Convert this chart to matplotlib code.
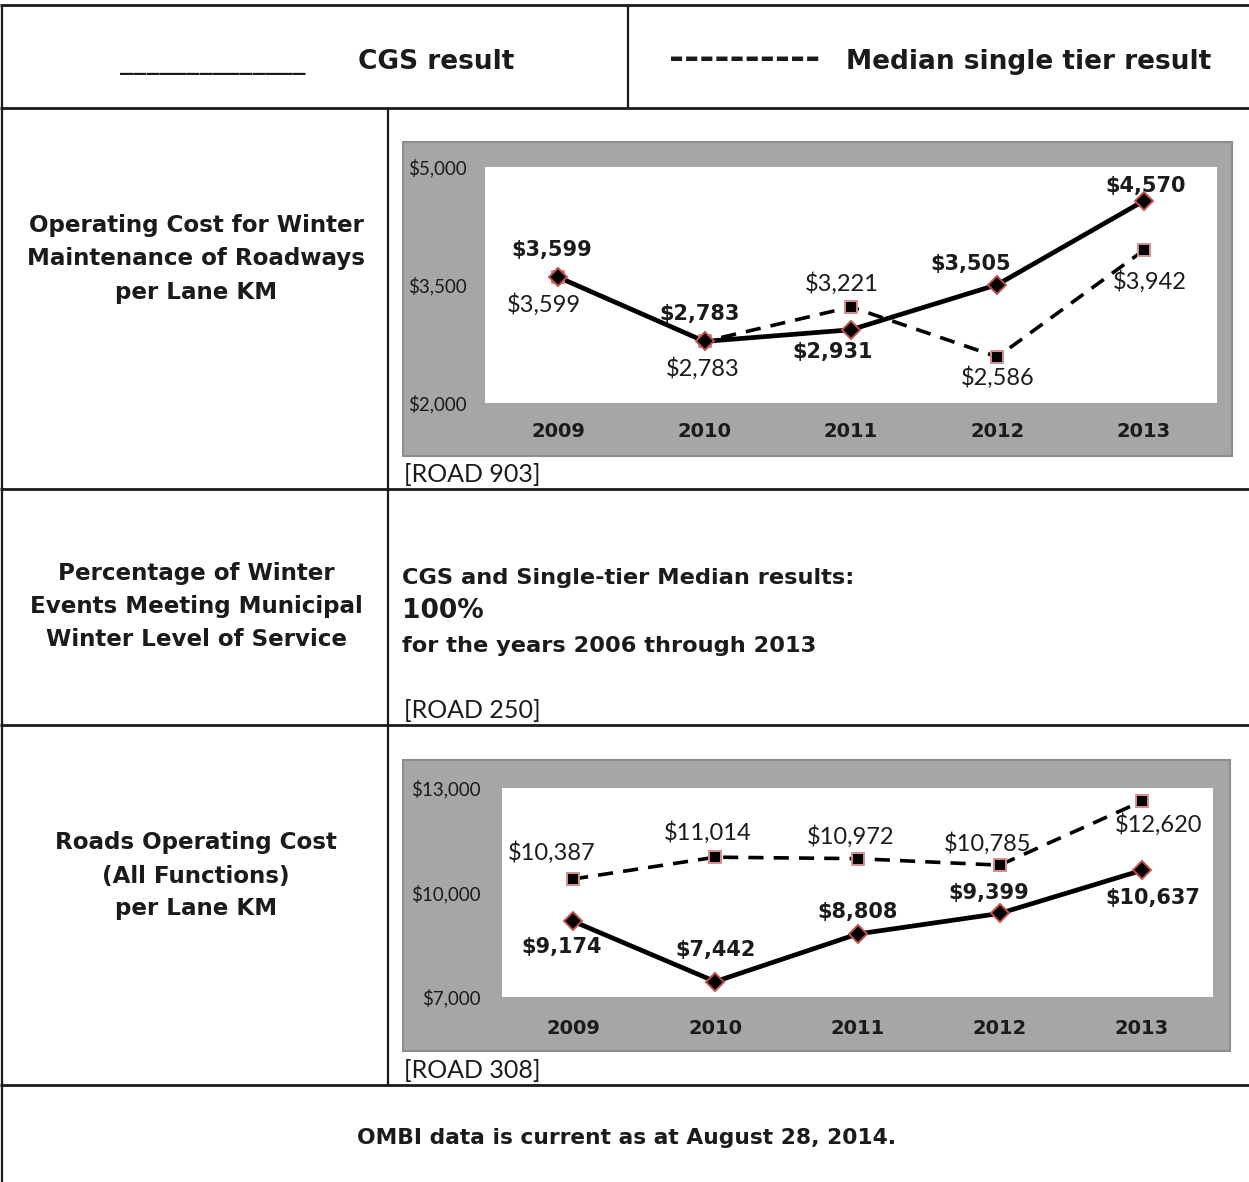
import matplotlib
matplotlib.use('Agg')
import matplotlib.pyplot as plt
from matplotlib.lines import Line2D
from matplotlib.patches import Rectangle

# ---------------- data ----------------
years = ['2009', '2010', '2011', '2012', '2013']
winter_cgs = [3599, 2783, 2931, 3505, 4570]
winter_median = [3599, 2783, 3221, 2586, 3942]
winter_ticks = [2000, 3500, 5000]
roads_cgs = [9174, 7442, 8808, 9399, 10637]
roads_median = [10387, 11014, 10972, 10785, 12620]
roads_ticks = [7000, 10000, 13000]

# label offsets in pixels (dx, dy), dy positive = upward
winter_cgs_off = [(-6, 27), (-5, 27), (-18, -22), (-27, 21), (2, 15)]
winter_med_off = [(-14, -27), (-2, -27), (-9, 23), (0, -21), (6, -31)]
roads_cgs_off = [(-11, -26), (0, 32), (0, 22), (-11, 20), (11, -28)]
roads_med_off = [(-21, 27), (-8, 25), (-7, 22), (-12, 22), (17, -23)]

W, H = 1249, 1182
INK = '#1c1a1b'
BOLD = dict(family='DejaVu Sans', weight='bold', color=INK)
THIN = dict(family='Lato', weight='normal', color=INK)

fig = plt.figure(figsize=(W / 100, H / 100), dpi=100)
fig.patch.set_facecolor('white')


def fx(x):
    return x / W


def fy(y):
    return 1 - y / H


def hline(y, x0=0, x1=W, lw=2.0):
    fig.add_artist(Line2D([fx(x0), fx(x1)], [fy(y), fy(y)], transform=fig.transFigure,
                          color=INK, lw=lw, solid_capstyle='butt'))


def vline(x, y0, y1, lw=1.6):
    fig.add_artist(Line2D([fx(x), fx(x)], [fy(y0), fy(y1)], transform=fig.transFigure,
                          color=INK, lw=lw, solid_capstyle='butt'))


def ftext(x, y, s, ha='center', size=16, style=BOLD):
    fig.text(fx(x), fy(y), s, ha=ha, va='center', fontsize=size, **style)


# ---------------- table grid ----------------
hline(5)
hline(108)
hline(489)
hline(725)
hline(1085)
vline(2, 5, H)
vline(628, 5, 108)
vline(388, 108, 1085)

# ---------------- header ----------------
ftext(213, 62, '______________', size=19)
ftext(436, 62, 'CGS result', size=19)
ftext(745, 59, '----------', size=26)
ftext(1029, 62, 'Median single tier result', size=19)

# ---------------- left column labels ----------------
for i, s in enumerate(['Operating Cost for Winter', 'Maintenance of Roadways', 'per Lane KM']):
    ftext(196, 226 + 33 * i, s, size=16.6)
for i, s in enumerate(['Percentage of Winter', 'Events Meeting Municipal', 'Winter Level of Service']):
    ftext(196, 574 + 33 * i, s, size=16.6)
for i, s in enumerate(['Roads Operating Cost', '(All Functions)', 'per Lane KM']):
    ftext(196, 843 + 33 * i, s, size=16.6)

# ---------------- row 3 text ----------------
ftext(402, 578, 'CGS and Single-tier Median results:', ha='left', size=16.2)
ftext(402, 611, '100%', ha='left', size=19)
ftext(402, 646, 'for the years 2006 through 2013', ha='left', size=16.2)
ftext(404, 711, '[ROAD 250]', ha='left', size=18, style=THIN)

# tags under charts
ftext(404, 474, '[ROAD 903]', ha='left', size=18, style=THIN)
ftext(404, 1070, '[ROAD 308]', ha='left', size=18, style=THIN)

# footer
ftext(627, 1138, 'OMBI data is current as at August 28, 2014.', size=15.7)


# ---------------- charts ----------------
def draw_chart(frame, plot, cgs, med, ticks, cgs_off, med_off, xpad, ypad):
    fx0, fy0, fx1, fy1 = frame
    fig.add_artist(Rectangle((fx(fx0), fy(fy1)), (fx1 - fx0) / W, (fy1 - fy0) / H,
                             transform=fig.transFigure, facecolor='#a6a6a6',
                             edgecolor='#8e8e8e', lw=1.5, zorder=-2))
    px0, py0, px1, py1 = plot
    ax = fig.add_axes([fx(px0), fy(py1), (px1 - px0) / W, (py1 - py0) / H])
    ax.set_facecolor('white')
    for sp in ax.spines.values():
        sp.set_visible(False)
    x = list(range(len(years)))
    ml, = ax.plot(x, med, color='black', lw=2.6, zorder=2)
    ml.set_dashes([4.2, 2.8])
    ax.plot(x, cgs, color='black', lw=3.4, solid_capstyle='round', zorder=3)
    ax.plot(x, med, ls='none', marker='s', ms=8, mfc='black', mec='#d58f8f', mew=1.4, zorder=4)
    ax.plot(x, cgs, ls='none', marker='D', ms=9.5, mfc='black', mec='#c0504d', mew=1.4, zorder=5)
    for xi, v, (dx, dy) in zip(x, cgs, cgs_off):
        ax.annotate(f'${v:,}', (xi, v), xytext=(dx, dy), textcoords='offset pixels',
                    ha='center', va='center', fontsize=15, zorder=6, **BOLD)
    for xi, v, (dx, dy) in zip(x, med, med_off):
        ax.annotate(f'${v:,}', (xi, v), xytext=(dx, dy), textcoords='offset pixels',
                    ha='center', va='center', fontsize=17, zorder=6, **THIN)
    ax.set_xlim(-0.5, len(years) - 0.5)
    ax.set_ylim(ticks[0], ticks[-1])
    ax.set_xticks(x)
    ax.set_xticklabels(years, fontsize=14, **BOLD)
    ax.set_yticks(ticks)
    ax.set_yticklabels([f'${t:,}' for t in ticks], fontsize=13.5, **THIN)
    ax.tick_params(axis='x', length=0, pad=ypad)
    ax.tick_params(axis='y', length=0, pad=xpad)
    return ax


draw_chart((403, 142, 1232, 456), (485, 167, 1217, 403), winter_cgs, winter_median,
           winter_ticks, winter_cgs_off, winter_med_off, xpad=13, ypad=14)
draw_chart((403, 760, 1230, 1051), (502, 788, 1213, 997), roads_cgs, roads_median,
           roads_ticks, roads_cgs_off, roads_med_off, xpad=15, ypad=16)

fig.savefig('out.png', dpi=100, facecolor='white')
